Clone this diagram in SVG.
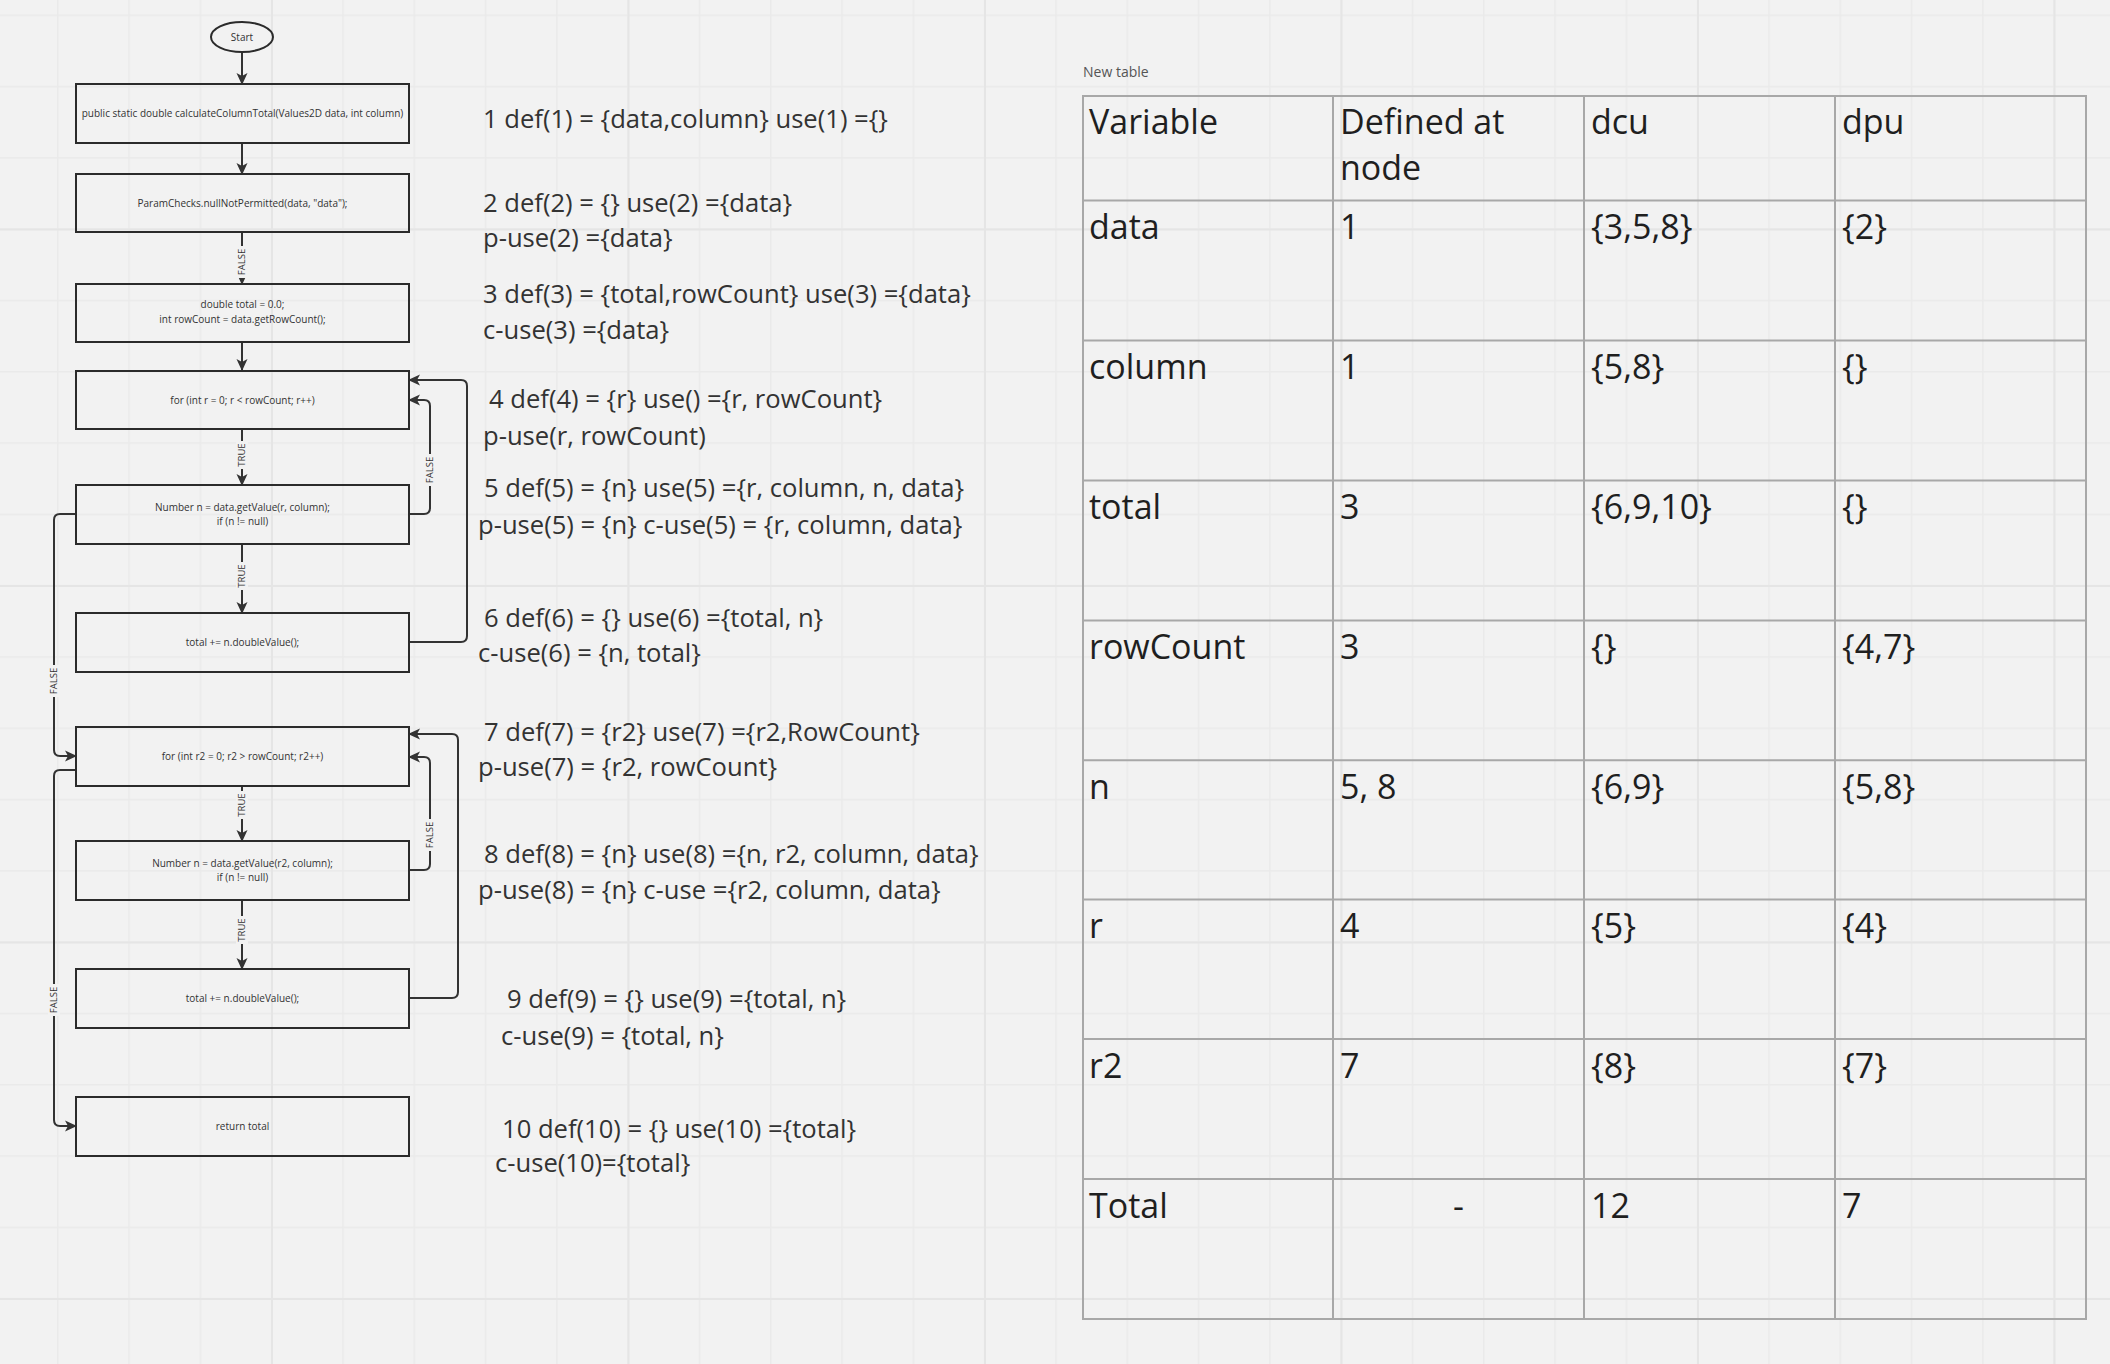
<svg xmlns="http://www.w3.org/2000/svg" width="2110" height="1364" viewBox="0 0 2110 1364">
  <defs>
    <style>
      .node { fill: none; stroke: #2b2b2b; stroke-width: 2; }
      .ntext { font-family: "Open Sans", "Noto Sans", sans-serif; font-size: 10px; fill: #333; text-anchor: middle; }
      .conn { fill: none; stroke: #333; stroke-width: 2; }
      .lbl { font-family: "Open Sans", "Noto Sans", sans-serif; font-size: 9.5px; fill: #333; text-anchor: middle; }
      .lblbg { fill: #f2f2f2; }
      .note { font-family: "Open Sans", "Noto Sans", sans-serif; font-size: 25.6px; fill: #333; }
      .cell { font-family: "Open Sans", "Noto Sans", sans-serif; font-size: 34px; fill: #1f1f1f; }
      .tline { stroke: #a8a8a8; stroke-width: 2; fill: none; }
    </style>
    <marker id="arrow" viewBox="0 0 12 12" refX="11" refY="6" markerWidth="12" markerHeight="12" markerUnits="userSpaceOnUse" orient="auto">
      <path d="M0,0.5 L12,6 L0,11.5 L3,6 Z" fill="#333"/>
    </marker>
    <pattern id="gridMinor" patternUnits="userSpaceOnUse" x="57" y="14.5" width="71.3" height="71.3">
      <path d="M0.75,0 V71.3 M0,0.75 H71.3" stroke="#eaeaea" stroke-width="1.5" fill="none"/>
    </pattern>
    <pattern id="gridMajor" patternUnits="userSpaceOnUse" x="271" y="228.5" width="356.5" height="356.5">
      <path d="M1,0 V356.5 M0,1 H356.5" stroke="#e5e5e5" stroke-width="2" fill="none"/>
    </pattern>
  </defs>

  <!-- canvas -->
  <rect width="2110" height="1364" fill="#f2f2f2"/>
  <rect width="2110" height="1364" fill="url(#gridMinor)"/>
  <rect width="2110" height="1364" fill="url(#gridMajor)"/>

  <!-- control flow graph: connectors -->
  <g id="connectors">
    <path class="conn" d="M242,52 V84" marker-end="url(#arrow)"/>
    <path class="conn" d="M242,143 V174" marker-end="url(#arrow)"/>
    <path class="conn" d="M242,232 V284" marker-end="url(#arrow)"/>
    <path class="conn" d="M242,342 V370" marker-end="url(#arrow)"/>
    <path class="conn" d="M242,429 V485" marker-end="url(#arrow)"/>
    <path class="conn" d="M242,544 V613" marker-end="url(#arrow)"/>
    <path class="conn" d="M409,514 H424 Q430,514 430,508 V406 Q430,400 424,400 H409" marker-end="url(#arrow)"/>
    <path class="conn" d="M409,642 H461 Q467,642 467,636 V386 Q467,380 461,380 H409" marker-end="url(#arrow)"/>
    <path class="conn" d="M76,514 H60 Q54,514 54,520 V750 Q54,756 60,756 H76" marker-end="url(#arrow)"/>
    <path class="conn" d="M242,786 V841" marker-end="url(#arrow)"/>
    <path class="conn" d="M242,900 V969" marker-end="url(#arrow)"/>
    <path class="conn" d="M409,870 H424 Q430,870 430,864 V763 Q430,757 424,757 H409" marker-end="url(#arrow)"/>
    <path class="conn" d="M409,998 H452 Q458,998 458,992 V740 Q458,734 452,734 H409" marker-end="url(#arrow)"/>
    <path class="conn" d="M76,770 H60 Q54,770 54,776 V1120 Q54,1126 60,1126 H76" marker-end="url(#arrow)"/>

    <!-- branch labels -->
    <g transform="translate(242,262) rotate(-90)"><rect class="lblbg" x="-16" y="-6" width="32" height="12"/><text class="lbl" y="3.4">FALSE</text></g>
    <g transform="translate(242,455) rotate(-90)"><rect class="lblbg" x="-14" y="-6" width="28" height="12"/><text class="lbl" y="3.4">TRUE</text></g>
    <g transform="translate(242,576) rotate(-90)"><rect class="lblbg" x="-14" y="-6" width="28" height="12"/><text class="lbl" y="3.4">TRUE</text></g>
    <g transform="translate(430,470) rotate(-90)"><rect class="lblbg" x="-16" y="-6" width="32" height="12"/><text class="lbl" y="3.4">FALSE</text></g>
    <g transform="translate(54,681) rotate(-90)"><rect class="lblbg" x="-16" y="-6" width="32" height="12"/><text class="lbl" y="3.4">FALSE</text></g>
    <g transform="translate(242,805) rotate(-90)"><rect class="lblbg" x="-14" y="-6" width="28" height="12"/><text class="lbl" y="3.4">TRUE</text></g>
    <g transform="translate(242,930) rotate(-90)"><rect class="lblbg" x="-14" y="-6" width="28" height="12"/><text class="lbl" y="3.4">TRUE</text></g>
    <g transform="translate(430,835) rotate(-90)"><rect class="lblbg" x="-16" y="-6" width="32" height="12"/><text class="lbl" y="3.4">FALSE</text></g>
    <g transform="translate(54,1000) rotate(-90)"><rect class="lblbg" x="-16" y="-6" width="32" height="12"/><text class="lbl" y="3.4">FALSE</text></g>
  </g>

  <!-- control flow graph: nodes -->
  <g id="start">
    <ellipse class="node" cx="242" cy="37" rx="31" ry="15"/>
    <text class="ntext" x="242" y="40.5">Start</text>
  </g>
  <g id="n1">
    <rect class="node" x="76" y="84" width="333" height="59"/>
    <text class="ntext" x="242.5" y="116.5">public static double calculateColumnTotal(Values2D data, int column)</text>
  </g>
  <g id="n2">
    <rect class="node" x="76" y="174" width="333" height="58"/>
    <text class="ntext" x="242.5" y="206.5">ParamChecks.nullNotPermitted(data, "data");</text>
  </g>
  <g id="n3">
    <rect class="node" x="76" y="284" width="333" height="58"/>
    <text class="ntext" x="242.5" y="308">double total = 0.0;</text>
    <text class="ntext" x="242.5" y="323">int rowCount = data.getRowCount();</text>
  </g>
  <g id="n4">
    <rect class="node" x="76" y="371" width="333" height="58"/>
    <text class="ntext" x="242.5" y="403.5">for (int r = 0; r &lt; rowCount; r++)</text>
  </g>
  <g id="n5">
    <rect class="node" x="76" y="485" width="333" height="59"/>
    <text class="ntext" x="242.5" y="510.5">Number n = data.getValue(r, column);</text>
    <text class="ntext" x="242.5" y="524.5">if (n != null)</text>
  </g>
  <g id="n6">
    <rect class="node" x="76" y="613" width="333" height="59"/>
    <text class="ntext" x="242.5" y="645.5">total += n.doubleValue();</text>
  </g>
  <g id="n7">
    <rect class="node" x="76" y="727" width="333" height="59"/>
    <text class="ntext" x="242.5" y="759.5">for (int r2 = 0; r2 &gt; rowCount; r2++)</text>
  </g>
  <g id="n8">
    <rect class="node" x="76" y="841" width="333" height="59"/>
    <text class="ntext" x="242.5" y="866.5">Number n = data.getValue(r2, column);</text>
    <text class="ntext" x="242.5" y="880.5">if (n != null)</text>
  </g>
  <g id="n9">
    <rect class="node" x="76" y="969" width="333" height="59"/>
    <text class="ntext" x="242.5" y="1001.5">total += n.doubleValue();</text>
  </g>
  <g id="n10">
    <rect class="node" x="76" y="1097" width="333" height="59"/>
    <text class="ntext" x="242.5" y="1129.5">return total</text>
  </g>

  <!-- def/use annotations per node -->
  <g id="annotations">
    <text class="note" x="483" y="128">1 def(1) = {data,column} use(1) ={}</text>
    <text class="note" x="483" y="212">2 def(2) = {} use(2) ={data}</text>
    <text class="note" x="483" y="247">p-use(2) ={data}</text>
    <text class="note" x="483" y="303">3 def(3) = {total,rowCount} use(3) ={data}</text>
    <text class="note" x="483" y="339">c-use(3) ={data}</text>
    <text class="note" x="489" y="408">4 def(4) = {r} use() ={r, rowCount}</text>
    <text class="note" x="483" y="445">p-use(r, rowCount)</text>
    <text class="note" x="484" y="497">5 def(5) = {n} use(5) ={r, column, n, data}</text>
    <text class="note" x="478" y="534">p-use(5) = {n} c-use(5) = {r, column, data}</text>
    <text class="note" x="484" y="627">6 def(6) = {} use(6) ={total, n}</text>
    <text class="note" x="478" y="662">c-use(6) = {n, total}</text>
    <text class="note" x="484" y="741">7 def(7) = {r2} use(7) ={r2,RowCount}</text>
    <text class="note" x="478" y="776">p-use(7) = {r2, rowCount}</text>
    <text class="note" x="484" y="863">8 def(8) = {n} use(8) ={n, r2, column, data}</text>
    <text class="note" x="478" y="899">p-use(8) = {n} c-use ={r2, column, data}</text>
    <text class="note" x="507" y="1008">9 def(9) = {} use(9) ={total, n}</text>
    <text class="note" x="501" y="1045">c-use(9) = {total, n}</text>
    <text class="note" x="502" y="1138">10 def(10) = {} use(10) ={total}</text>
    <text class="note" x="495" y="1172">c-use(10)={total}</text>
  </g>

  <!-- def-use coverage table -->
  <g id="table">
    <text x="1083" y="77" font-family="'Open Sans', 'Noto Sans', sans-serif" font-size="14" fill="#555">New table</text>
    <rect class="tline" x="1083" y="96" width="1003" height="1223"/>
    <path class="tline" d="M1333,96 V1319 M1584,96 V1319 M1835,96 V1319"/>
    <path class="tline" d="M1083,200.5 H2086 M1083,340.5 H2086 M1083,480.4 H2086 M1083,620.4 H2086 M1083,760.3 H2086 M1083,899.5 H2086 M1083,1039 H2086 M1083,1179 H2086"/>

    <text class="cell" x="1089" y="134">Variable</text>
    <text class="cell" x="1340" y="134">Defined at</text>
    <text class="cell" x="1340" y="180">node</text>
    <text class="cell" x="1591" y="134">dcu</text>
    <text class="cell" x="1842" y="134">dpu</text>

    <text class="cell" x="1089" y="239">data</text>
    <text class="cell" x="1340" y="239">1</text>
    <text class="cell" x="1591" y="239">{3,5,8}</text>
    <text class="cell" x="1842" y="239">{2}</text>

    <text class="cell" x="1089" y="379">column</text>
    <text class="cell" x="1340" y="379">1</text>
    <text class="cell" x="1591" y="379">{5,8}</text>
    <text class="cell" x="1842" y="379">{}</text>

    <text class="cell" x="1089" y="519">total</text>
    <text class="cell" x="1340" y="519">3</text>
    <text class="cell" x="1591" y="519">{6,9,10}</text>
    <text class="cell" x="1842" y="519">{}</text>

    <text class="cell" x="1089" y="659">rowCount</text>
    <text class="cell" x="1340" y="659">3</text>
    <text class="cell" x="1591" y="659">{}</text>
    <text class="cell" x="1842" y="659">{4,7}</text>

    <text class="cell" x="1089" y="799">n</text>
    <text class="cell" x="1340" y="799">5, 8</text>
    <text class="cell" x="1591" y="799">{6,9}</text>
    <text class="cell" x="1842" y="799">{5,8}</text>

    <text class="cell" x="1089" y="938">r</text>
    <text class="cell" x="1340" y="938">4</text>
    <text class="cell" x="1591" y="938">{5}</text>
    <text class="cell" x="1842" y="938">{4}</text>

    <text class="cell" x="1089" y="1078">r2</text>
    <text class="cell" x="1340" y="1078">7</text>
    <text class="cell" x="1591" y="1078">{8}</text>
    <text class="cell" x="1842" y="1078">{7}</text>

    <text class="cell" x="1089" y="1218">Total</text>
    <text class="cell" x="1458.5" y="1218" text-anchor="middle">-</text>
    <text class="cell" x="1591" y="1218">12</text>
    <text class="cell" x="1842" y="1218">7</text>
  </g>
</svg>
